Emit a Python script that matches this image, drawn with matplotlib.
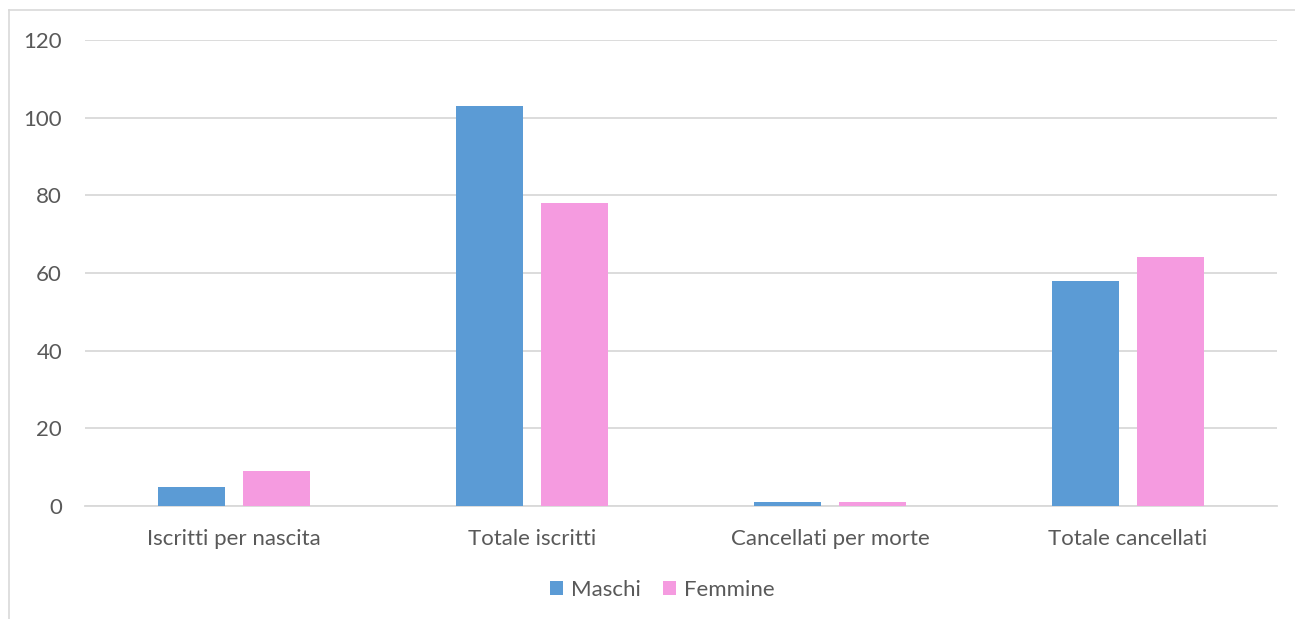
import matplotlib
matplotlib.use("Agg")
import matplotlib.pyplot as plt
import numpy as np

categories = ["Iscritti per nascita", "Totale iscritti", "Cancellati per morte", "Totale cancellati"]
maschi = [5, 103, 1, 58]
femmine = [9, 78, 1, 64]
yticks = [0, 20, 40, 60, 80, 100, 120]

plt.rcParams['font.family'] = ['Lato', 'DejaVu Sans']

W, H = 1295, 619
fig = plt.figure(figsize=(W / 100, H / 100), dpi=100)

# outer chart frame (left and top visible)
fig.add_artist(plt.Line2D([9 / W, 9 / W], [0, 1 - 10 / H], color="#D9D9D9", lw=1.2))
fig.add_artist(plt.Line2D([9 / W, 1], [1 - 10 / H, 1 - 10 / H], color="#D9D9D9", lw=1.2))

left, right = 85 / W, 1277 / W
bottom, top = 1 - 506 / H, 1 - 40 / H
ax = fig.add_axes([left, bottom, right - left, top - bottom])

x = np.arange(len(categories))
bw = 0.225
gap = 0.06
ax.bar(x - (bw + gap) / 2, maschi, bw, color="#5B9BD5", label="Maschi", zorder=3)
ax.bar(x + (bw + gap) / 2, femmine, bw, color="#F59BE0", label="Femmine", zorder=3)

ax.set_xlim(-0.5, len(categories) - 0.5)
ax.set_ylim(0, 120)
ax.set_yticks(yticks)
ax.set_yticklabels([str(v) for v in yticks])
ax.set_xticks(x)
ax.set_xticklabels(categories)
ax.grid(axis="y", color="#D9D9D9", lw=1.3, zorder=0)
for s in ["top", "right", "left"]:
    ax.spines[s].set_visible(False)
ax.spines["bottom"].set_color("#D9D9D9")
ax.spines["bottom"].set_linewidth(1.3)
ax.tick_params(axis="both", length=0, labelsize=16, labelcolor="#595959")
ax.tick_params(axis="y", pad=16.5)
ax.tick_params(axis="x", pad=16.5)

leg = fig.legend(loc="center", bbox_to_anchor=(662 / W, 1 - 590 / H), ncol=2, frameon=False,
                 fontsize=16, handlelength=0.6, handleheight=0.6, handletextpad=0.35,
                 columnspacing=1.0, labelcolor="#595959")

fig.savefig("out.png", dpi=100, facecolor="white")
